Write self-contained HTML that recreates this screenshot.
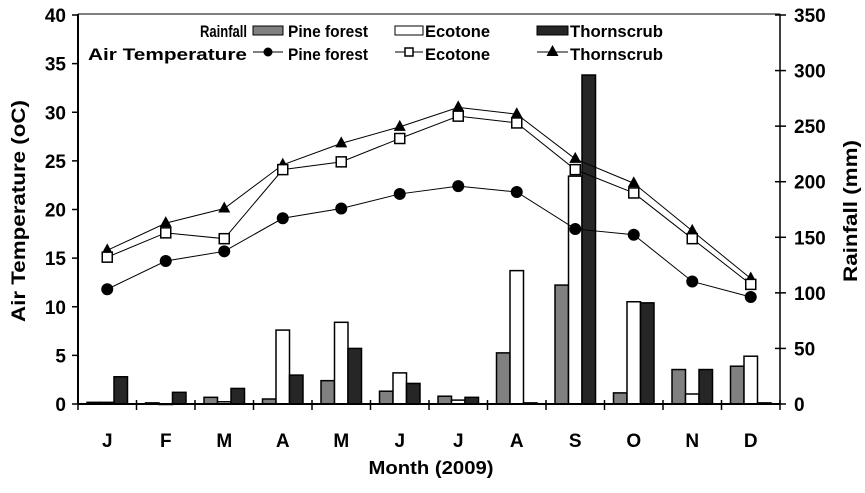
<!DOCTYPE html>
<html><head><meta charset="utf-8"><style>
body{margin:0;background:#fff}
svg text{font-family:"Liberation Sans",sans-serif;font-weight:bold;fill:#000}
</style></head><body>
<svg id="chart" width="865" height="488" viewBox="0 0 865 488" xmlns="http://www.w3.org/2000/svg">
<g id="bars"></g><g id="lines"></g><g id="axes"></g><g id="legend"></g>
</svg>
<script>
const months=["J","F","M","A","M","J","J","A","S","O","N","D"];
const rainPine=[1.5,1,6,4.5,21,11.5,7,46,107,10,31,34];
const rainEco=[1.5,0,2,66.5,73.5,28,3.5,120,205,92,9,43];
const rainThorn=[24.5,10.5,14,26,50,18.5,6,1,296,91,31,1];
const tempPine=[11.8,14.7,15.7,19.1,20.1,21.6,22.4,21.8,18.0,17.4,12.6,11.0];
const tempEco=[15.1,17.6,17.0,24.1,24.9,27.3,29.6,28.9,24.1,21.7,17.0,12.3];
const tempThorn=[15.8,18.6,20.1,24.6,26.8,28.5,30.5,29.8,25.2,22.7,17.8,12.9];
const leftTicks=[0,5,10,15,20,25,30,35,40];
const rightTicks=[0,50,100,150,200,250,300,350];

const X0=78,X1=780,Y0=404,Y1=15,cw=(X1-X0)/12;
const xc=i=>X0+cw*(i+0.5);
const yT=v=>Y0-(v/40)*(Y0-Y1);
const yR=v=>Y0-(v/350)*(Y0-Y1);
const NS="http://www.w3.org/2000/svg";
function mk(tag,attrs,parent,txt){const e=document.createElementNS(NS,tag);for(const k in attrs)e.setAttribute(k,attrs[k]);if(txt!==undefined)e.textContent=txt;parent.appendChild(e);return e;}
const bars=document.getElementById('bars'),lines=document.getElementById('lines'),axes=document.getElementById('axes'),legend=document.getElementById('legend');
const bw=13.5;
const series=[[rainPine,'#808080','pine'],[rainEco,'#fff','ecotone'],[rainThorn,'#262626','thornscrub']];
series.forEach((s,si)=>{s[0].forEach((v,i)=>{
 const x=xc(i)+(si-1.5)*bw;const y=yR(v);
 const r=mk('rect',{x:x,y:y,width:bw,height:Math.max(Y0-y,0.5),fill:s[1],stroke:'#000','stroke-width':1.5},bars);
 
 
});});
mk('line',{x1:X0,y1:Y1-1,x2:X1,y2:Y1-1,stroke:'#000','stroke-width':1},axes);
mk('line',{x1:X0,y1:Y1-1,x2:X0,y2:Y0,stroke:'#000','stroke-width':2},axes);
mk('line',{x1:X1,y1:Y1-1,x2:X1,y2:Y0,stroke:'#000','stroke-width':1.5},axes);
mk('line',{x1:X0,y1:Y0,x2:X1,y2:Y0,stroke:'#000','stroke-width':2},axes);
leftTicks.forEach(v=>{const y=yT(v);mk('line',{x1:X0-6,y1:y,x2:X0,y2:y,stroke:'#000','stroke-width':1.5},axes);
 const t=mk('text',{x:X0-12,y:y+7,'text-anchor':'end','font-size':19},axes,v);});
rightTicks.forEach(v=>{const y=yR(v);mk('line',{x1:X1-5,y1:y,x2:X1+6,y2:y,stroke:'#000','stroke-width':1.5},axes);
 const t=mk('text',{x:X1+14,y:y+7,'font-size':19},axes,v);});
for(let i=0;i<=12;i++){const x=X0+cw*i;mk('line',{x1:x,y1:Y0-4,x2:x,y2:Y0+6,stroke:'#000','stroke-width':1.5},axes);}
months.forEach((m,i)=>{const t=mk('text',{x:xc(i),y:447,'text-anchor':'middle','font-size':19},axes,m);});
const xt=mk('text',{x:431,y:474,'text-anchor':'middle','font-size':18,textLength:125,lengthAdjust:'spacingAndGlyphs'},axes,'Month (2009)');

const yl=mk('text',{x:0,y:0,'text-anchor':'middle','font-size':19,transform:'translate(25,211) rotate(-90)',textLength:222,lengthAdjust:'spacingAndGlyphs'},axes,'Air Temperature (oC)');

const yr=mk('text',{x:0,y:0,'text-anchor':'middle','font-size':19,transform:'translate(857,211) rotate(-90)',textLength:142,lengthAdjust:'spacingAndGlyphs'},axes,'Rainfall (mm)');


function marker(type,x,y,p){
 if(type==='circle')return mk('circle',{cx:x,cy:y,r:6,fill:'#000'},p);
 if(type==='square')return mk('rect',{x:x-5,y:y-5,width:10,height:10,fill:'#fff',stroke:'#000','stroke-width':1.5},p);
 return mk('polygon',{points:`${x},${y-7} ${x+6},${y+4} ${x-6},${y+4}`,fill:'#000'},p);
}
[[tempThorn,'triangle','thornscrub'],[tempEco,'square','ecotone'],[tempPine,'circle','pine']].forEach(s=>{
 const pl=mk('polyline',{points:s[0].map((v,i)=>xc(i)+','+yT(v)).join(' '),fill:'none',stroke:'#000','stroke-width':1},lines);
 
 s[0].forEach((v,i)=>{const m=marker(s[1],xc(i),yT(v),lines);});
});
function lt(x,y,s,w,name){const t=mk('text',{x:x,y:y,'font-size':17,textLength:w,lengthAdjust:'spacingAndGlyphs'},legend,s);}
lt(200,37,'Rainfall',47,'legend-rainfall-title');
lt(88,60,'Air Temperature',159,'legend-temp-title');
const legItems=[[253,283,'#808080','circle','Pine forest',288,80,'pine'],[395,423,'#fff','square','Ecotone',425,65,'ecotone'],[537,568,'#262626','triangle','Thornscrub',570,93,'thornscrub']];
legItems.forEach(l=>{
 const r=mk('rect',{x:l[0],y:26,width:l[1]-l[0],height:9,fill:l[2],stroke:'#000','stroke-width':1},legend);
 
 lt(l[5],37,l[4],l[6],'legend-bar-label-'+l[7]);
 mk('line',{x1:l[0],y1:52,x2:l[1],y2:52,stroke:'#000','stroke-width':1},legend);
 const m=marker(l[3],(l[0]+l[1])/2,52,legend);
 if(l[3]==='square'){m.setAttribute('width',8);m.setAttribute('height',8);m.setAttribute('x',(l[0]+l[1])/2-4);m.setAttribute('y',48);}
 if(l[3]==='circle'){m.setAttribute('r',4.5);}
 
 lt(l[5],60,l[4],l[6],'legend-line-label-'+l[7]);
});
</script>
</body></html>
